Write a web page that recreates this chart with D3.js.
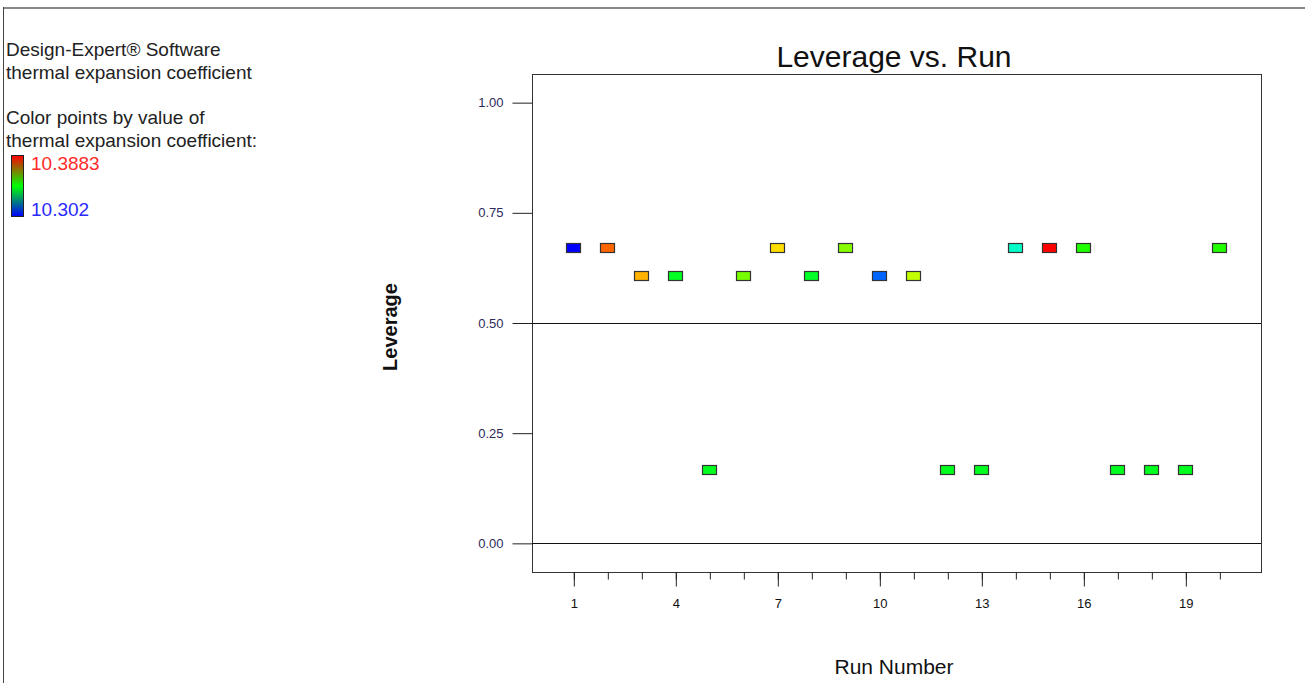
<!DOCTYPE html>
<html>
<head>
<meta charset="utf-8">
<script src="https://cdn.jsdelivr.net/npm/d3@7"></script>
<style>
  html, body { margin: 0; padding: 0; background: #fff; }
  svg { display: block; }
  text { font-family: Arial, "Liberation Sans", sans-serif; }
</style>
</head>
<body>
<svg id="chart" width="1305" height="683"></svg>
<script>
// Run order and leverage of each run (CCD: factorial, axial and center points)
const runs = d3.range(1, 21);
const leverage = [0.670, 0.670, 0.607, 0.607, 0.166, 0.607, 0.670, 0.607, 0.670, 0.607,
                  0.607, 0.166, 0.166, 0.670, 0.670, 0.670, 0.166, 0.166, 0.166, 0.670];
// Measured thermal expansion coefficient, used to colour each point
const response = [10.3020, 10.3797, 10.3732, 10.3423, 10.3426, 10.3552, 10.3696, 10.3419, 10.3566, 10.3106,
                  10.3617, 10.3426, 10.3426, 10.3282, 10.3883, 10.3477, 10.3426, 10.3426, 10.3426, 10.3480];
const yTicks = [0.00, 0.25, 0.50, 0.75, 1.00];
const xTickLabels = [1, 4, 7, 10, 13, 16, 19];
const refLines = [0.00, 0.50];
const respMin = 10.302, respMax = 10.3883;

const svg = d3.select("#chart");

// Page frame
svg.append("line").attr("x1", 3).attr("x2", 1305).attr("y1", 8).attr("y2", 8)
  .attr("stroke", "#888").attr("stroke-width", 2);
svg.append("line").attr("x1", 3.5).attr("x2", 3.5).attr("y1", 7).attr("y2", 683)
  .attr("stroke", "#444").attr("stroke-width", 1);

// Left info block
const info = [
  ["Design-Expert® Software", 56],
  ["thermal expansion coefficient", 79],
  ["Color points by value of", 124],
  ["thermal expansion coefficient:", 147]
];
svg.selectAll("text.info").data(info).enter().append("text")
  .attr("class", "info").attr("x", 6).attr("y", d => d[1])
  .attr("font-size", 19).attr("fill", "#222").text(d => d[0]);

// Colour legend bar (red - green - blue)
const defs = svg.append("defs");
const grad = defs.append("linearGradient").attr("id", "legendGrad")
  .attr("x1", 0).attr("y1", 0).attr("x2", 0).attr("y2", 1);
grad.append("stop").attr("offset", "0%").attr("stop-color", "#ff0000");
grad.append("stop").attr("offset", "50%").attr("stop-color", "#00ff00");
grad.append("stop").attr("offset", "100%").attr("stop-color", "#0000ff");
svg.append("rect").attr("x", 11.5).attr("y", 155.5).attr("width", 12).attr("height", 61)
  .attr("fill", "url(#legendGrad)").attr("stroke", "#222").attr("stroke-width", 1);
svg.append("text").attr("x", 31).attr("y", 170).attr("font-size", 19)
  .attr("fill", "#ff2a2a").text(String(respMax));
svg.append("text").attr("x", 31).attr("y", 216).attr("font-size", 19)
  .attr("fill", "#2a2aff").text(String(respMin));

// Plot area
const plotL = 532, plotR = 1261, plotT = 74, plotB = 572;
const x = d3.scaleLinear().domain([-0.23, 21.21]).range([plotL, plotR]);
const y = d3.scaleLinear().domain([-0.065, 1.065]).range([plotB, plotT]);
const hue = d3.scaleLinear().domain([respMin, respMax]).range([240, 0]);
const colorOf = v => d3.hsl(hue(v), 1, 0.5).toString();

svg.append("rect").attr("x", plotL + 0.5).attr("y", plotT + 0.5)
  .attr("width", plotR - plotL).attr("height", plotB - plotT)
  .attr("fill", "none").attr("stroke", "#333").attr("stroke-width", 1);

// Title
svg.append("text").attr("x", 894).attr("y", 67)
  .attr("text-anchor", "middle").attr("font-size", 30).attr("fill", "#111")
  .text("Leverage vs. Run");

// Y axis
const yAxis = d3.axisLeft(y).tickValues(yTicks).tickFormat(d3.format(".2f"))
  .tickSize(20).tickPadding(9);
const gy = svg.append("g").attr("transform", `translate(${plotL + 0.5},0)`).call(yAxis);
gy.select(".domain").remove();
gy.selectAll(".tick line").attr("stroke", "#222");
gy.selectAll(".tick text").attr("font-size", 13).attr("fill", "#2b2b5a")
  .attr("font-family", "Arial, 'Liberation Sans', sans-serif");

// Reference lines across the plot
svg.selectAll("line.ref").data(refLines).enter().append("line")
  .attr("class", "ref")
  .attr("x1", plotL).attr("x2", plotR)
  .attr("y1", d => Math.round(y(d)) + 0.5).attr("y2", d => Math.round(y(d)) + 0.5)
  .attr("stroke", "#111").attr("stroke-width", 1);

// X axis: minor tick at each run, major ticks with labels every third run
const xMinor = d3.axisBottom(x).tickValues(runs).tickSize(7).tickFormat("");
const gxm = svg.append("g").attr("transform", `translate(0,${plotB + 0.5})`).call(xMinor);
gxm.select(".domain").remove();
gxm.selectAll(".tick line").attr("stroke", "#222");

const xMajor = d3.axisBottom(x).tickValues(xTickLabels).tickSize(14).tickPadding(12);
const gx = svg.append("g").attr("transform", `translate(0,${plotB + 0.5})`).call(xMajor);
gx.select(".domain").remove();
gx.selectAll(".tick line").attr("stroke", "#222");
gx.selectAll(".tick text").attr("font-size", 13).attr("fill", "#111")
  .attr("font-family", "Arial, 'Liberation Sans', sans-serif");

// Axis titles
svg.append("text").attr("x", 894).attr("y", 674).attr("text-anchor", "middle")
  .attr("font-size", 21).attr("fill", "#111").text("Run Number");
svg.append("text").attr("transform", "translate(397,327) rotate(-90)")
  .attr("text-anchor", "middle").attr("font-size", 20).attr("font-weight", "bold")
  .attr("fill", "#111").text("Leverage");

// Points
const pts = runs.map((r, i) => ({ run: r, lev: leverage[i], resp: response[i] }));
svg.selectAll("rect.pt").data(pts).enter().append("rect")
  .attr("class", "pt")
  .attr("x", d => Math.round(x(d.run) - 7.5) + 0.5)
  .attr("y", d => Math.round(y(d.lev) - 5) + 0.5)
  .attr("width", 14).attr("height", 9)
  .attr("fill", d => colorOf(d.resp))
  .attr("stroke", "#333").attr("stroke-width", 1.2);
</script>
</body>
</html>
